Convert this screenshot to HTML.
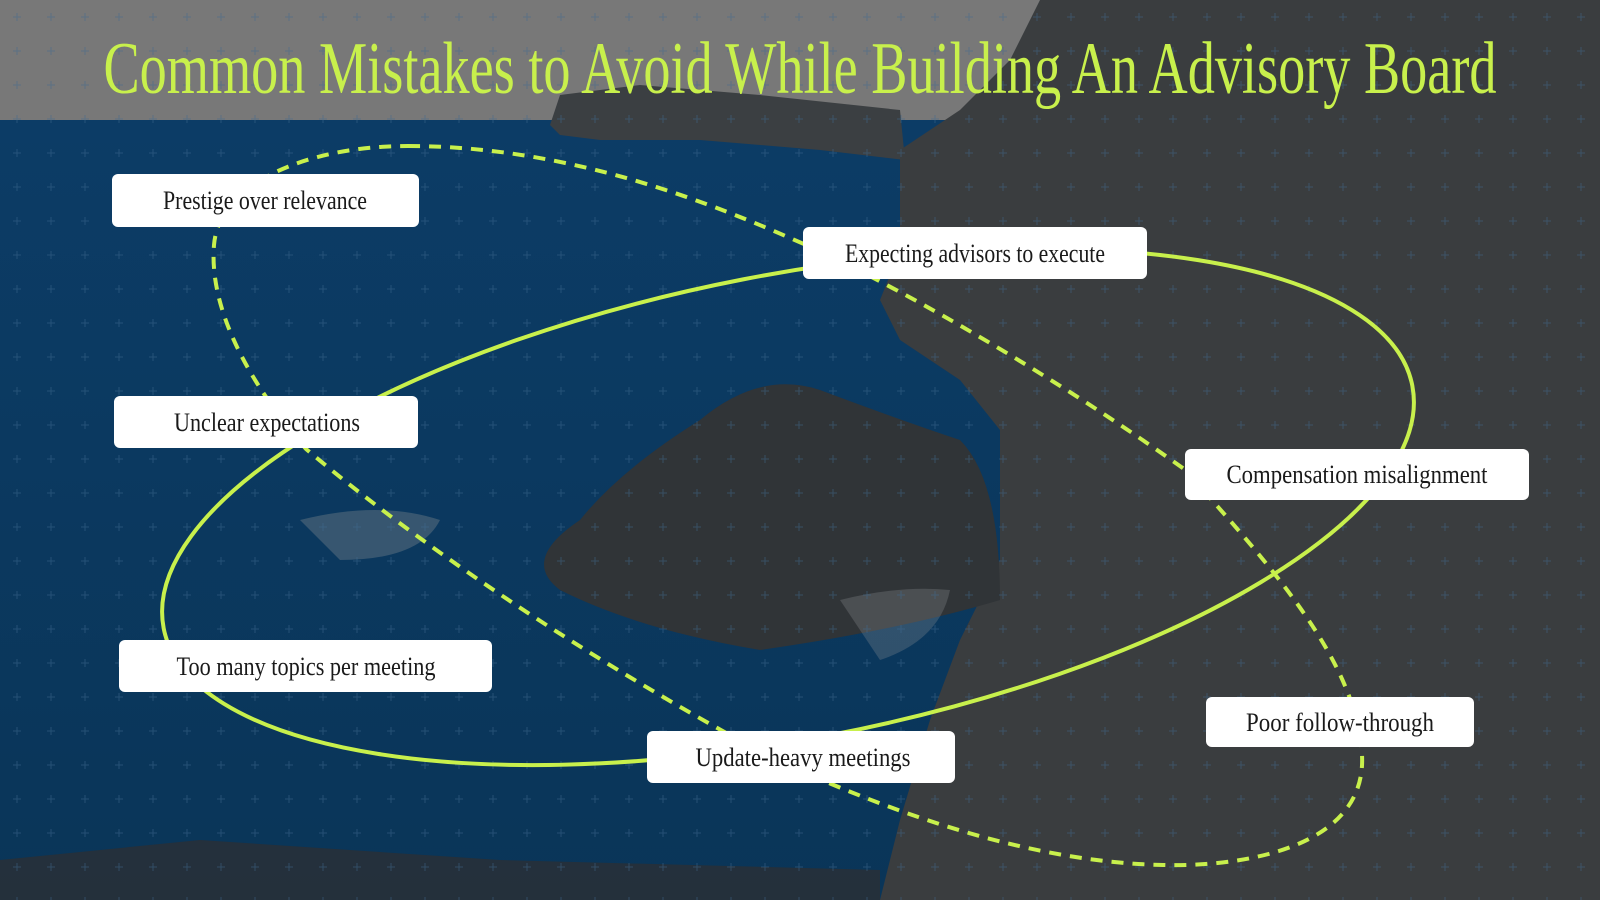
<!DOCTYPE html>
<html><head><meta charset="utf-8"><style>
html,body{margin:0;padding:0;width:1600px;height:900px;overflow:hidden;background:#0d3b63}
svg{display:block}
</style></head><body>
<svg width="1600" height="900" viewBox="0 0 1600 900" xmlns="http://www.w3.org/2000/svg">
<defs>
<pattern id="plus" width="34" height="34" patternUnits="userSpaceOnUse">
<path d="M17 13v8M13 17h8" stroke="#3f6a90" stroke-width="1" opacity="0.5"/>
</pattern>
<linearGradient id="sea" x1="0" y1="0" x2="0" y2="1">
<stop offset="0" stop-color="#0c3d68"/><stop offset="1" stop-color="#0a3558"/>
</linearGradient>
</defs>
<rect width="1600" height="900" fill="url(#sea)"/>
<rect x="0" y="0" width="1040" height="120" fill="#787878"/>
<path d="M550 125 L560 95 L640 85 L760 95 L900 110 L905 160 L820 150 L700 140 L600 140 L560 135Z" fill="#3b3f42"/>
<path d="M900 150 L960 110 L1010 60 L1040 0 L1600 0 L1600 900 L880 900 L900 820 L930 720 L960 640 L1000 560 L1000 430 L960 380 L900 340 L880 300 L900 250Z" fill="#3a3d3f"/>
<path d="M580 520 Q620 470 700 420 Q760 370 820 390 Q900 420 960 440 Q1000 480 1000 600 Q900 630 760 650 Q640 630 560 590 Q520 560 580 520Z" fill="#303437"/>
<path d="M300 520 Q380 500 440 520 Q420 560 340 560Z" fill="#8a8f93" opacity="0.35"/>
<path d="M840 600 Q900 585 950 590 Q940 640 880 660Z" fill="#8a8f93" opacity="0.3"/>
<path d="M0 860 L200 840 L500 860 L880 870 L880 900 L0 900Z" fill="#2a3034" opacity="0.8"/>
<rect width="1600" height="900" fill="url(#plus)"/>

<ellipse cx="788" cy="507" rx="636" ry="232" transform="rotate(-11 788 507)" fill="none" stroke="#c8f04c" stroke-width="4"/>
<path d="M408,146 C571,146 714,204 806,245 C918,296 1071,388 1184,469 C1276,571 1357,663 1362,755 C1367,847 1245,867 1163,865 C1020,862 878,806 776,760 C612,673 439,561 306,449 C245,378 209,306 214,245 C219,184 306,146 408,146 Z" fill="none" stroke="#c8f04c" stroke-width="4" stroke-dasharray="12 9"/>

<text x="800" y="93" text-anchor="middle" textLength="1393" lengthAdjust="spacingAndGlyphs" font-family="Liberation Serif, serif" font-size="74" fill="#c8f04c">Common Mistakes to Avoid While Building An Advisory Board</text>

<g font-family="Liberation Serif, serif" font-size="26" fill="#1a1a1a" text-anchor="middle">
<rect x="112" y="174" width="307" height="53" rx="6" fill="#fff"/>
<text x="265" y="209" textLength="204" lengthAdjust="spacingAndGlyphs">Prestige over relevance</text>
<rect x="803" y="227" width="344" height="52" rx="6" fill="#fff"/>
<text x="975" y="262" textLength="260" lengthAdjust="spacingAndGlyphs">Expecting advisors to execute</text>
<rect x="114" y="396" width="304" height="52" rx="6" fill="#fff"/>
<text x="267" y="431" textLength="186" lengthAdjust="spacingAndGlyphs">Unclear expectations</text>
<rect x="1185" y="449" width="344" height="51" rx="6" fill="#fff"/>
<text x="1357" y="483" textLength="261" lengthAdjust="spacingAndGlyphs">Compensation misalignment</text>
<rect x="119" y="640" width="373" height="52" rx="6" fill="#fff"/>
<text x="306" y="675" textLength="259" lengthAdjust="spacingAndGlyphs">Too many topics per meeting</text>
<rect x="647" y="731" width="308" height="52" rx="6" fill="#fff"/>
<text x="803" y="766" textLength="215" lengthAdjust="spacingAndGlyphs">Update-heavy meetings</text>
<rect x="1206" y="697" width="268" height="50" rx="6" fill="#fff"/>
<text x="1340" y="731" textLength="188" lengthAdjust="spacingAndGlyphs">Poor follow-through</text>
</g>
</svg>
</body></html>
